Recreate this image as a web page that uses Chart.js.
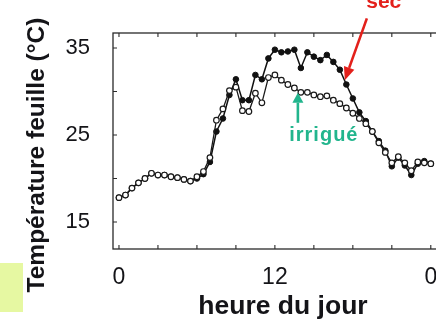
<!DOCTYPE html>
<html><head><meta charset="utf-8">
<script src="https://cdn.jsdelivr.net/npm/chart.js@4.4.1/dist/chart.umd.min.js"></script>
<style>
html,body{margin:0;padding:0;background:#fff;overflow:hidden;}
#wrap{position:relative;width:436px;height:325px;overflow:hidden;background:#fff;}
#swatch{position:absolute;left:0;top:263px;width:23px;height:49px;background:#e6f8a2;}
canvas{position:absolute;left:0;top:0;}
</style></head><body>
<div id="wrap"><div id="swatch"></div><canvas id="c" width="446" height="325"></canvas></div>
<script>
// hour of day (half-hourly readings)
const hours = [0,0.5,1,1.5,2,2.5,3,3.5,4,4.5,5,5.5,6,6.5,7,7.5,8,8.5,9,9.5,10,10.5,11,11.5,
  12,12.5,13,13.5,14,14.5,15,15.5,16,16.5,17,17.5,18,18.5,19,19.5,20,20.5,21,21.5,22,22.5,23,23.5,24];
// leaf temperature, irrigated plant (open circles)
const irrigue = [17.8,18.1,18.9,19.5,20.0,20.6,20.4,20.4,20.2,20.1,19.9,19.7,20.2,20.8,22.4,26.7,
  28.0,30.1,30.5,27.8,27.7,29.8,28.7,31.6,31.9,31.3,30.8,30.4,29.9,29.9,29.6,29.4,29.5,29.0,28.6,
  28.1,27.5,26.9,26.3,25.4,24.1,23.0,21.8,22.5,21.8,20.9,21.9,21.8,21.7];
// leaf temperature, dry plant (filled circles)
const sec = [17.8,18.1,18.9,19.5,20.0,20.6,20.4,20.4,20.2,20.1,19.9,19.7,20.0,20.5,21.9,25.4,
  26.9,29.6,31.4,29.0,29.0,31.9,31.4,33.8,34.8,34.5,34.6,34.8,32.7,34.5,34.0,33.6,34.2,33.4,32.5,
  30.8,29.2,27.6,26.6,25.4,24.3,23.2,21.4,22.4,21.5,20.4,21.7,22.0,21.7];
const xTickValues = [0, 12, 24];
const xTickLabels = ['0', '12', '0'];
const yTickValues = [15, 25, 35];
const xMinorTicks = [0, 3, 6, 9, 12, 15, 18, 21, 24];
const yMinorTicks = [15, 20, 25, 30, 35];

const FONT = "'Liberation Sans', Arial, sans-serif";
const INK = '#141418';

const framePlugin = {
  id: 'frame',
  afterDraw(chart) {
    const {ctx, chartArea: a, scales: {x, y}} = chart;
    ctx.save();
    ctx.strokeStyle = '#2a2a2a';
    ctx.lineWidth = 1.3;
    ctx.strokeRect(a.left, a.top, a.right - a.left, a.bottom - a.top);
    ctx.lineWidth = 1.1;
    ctx.beginPath();
    xMinorTicks.forEach(v => {
      const px = x.getPixelForValue(v);
      ctx.moveTo(px, a.bottom); ctx.lineTo(px, a.bottom - 4);
      ctx.moveTo(px, a.top); ctx.lineTo(px, a.top + 4);
    });
    yMinorTicks.forEach(v => {
      const py = y.getPixelForValue(v);
      ctx.moveTo(a.left, py); ctx.lineTo(a.left + 4, py);
      ctx.moveTo(a.right, py); ctx.lineTo(a.right - 4, py);
    });
    ctx.stroke();
    ctx.fillStyle = INK;
    // x axis title
    ctx.font = "bold 26.5px " + FONT;
    ctx.textAlign = 'center';
    ctx.textBaseline = 'middle';
    ctx.fillText('heure du jour', 283, 307);
    // y axis title
    ctx.font = "bold 24.5px " + FONT;
    ctx.translate(37, 155);
    ctx.rotate(-Math.PI / 2);
    ctx.fillText('Température feuille (°C)', 0, 0);
    ctx.restore();
  }
};

function arrow(ctx, x0, y0, x1, y1, color, w, headLen, headW) {
  const ang = Math.atan2(y1 - y0, x1 - x0);
  const bx = x1 - Math.cos(ang) * headLen, by = y1 - Math.sin(ang) * headLen;
  ctx.strokeStyle = color; ctx.fillStyle = color; ctx.lineWidth = w;
  ctx.beginPath(); ctx.moveTo(x0, y0); ctx.lineTo(bx, by); ctx.stroke();
  const nx = -Math.sin(ang) * headW / 2, ny = Math.cos(ang) * headW / 2;
  ctx.beginPath();
  ctx.moveTo(x1, y1); ctx.lineTo(bx + nx, by + ny); ctx.lineTo(bx - nx, by - ny);
  ctx.closePath(); ctx.fill();
}

const notePlugin = {
  id: 'notes',
  afterDraw(chart) {
    const {ctx, scales: {x, y}} = chart;
    ctx.save();
    const red = '#e3201b', teal = '#22b58d';
    arrow(ctx, x.getPixelForValue(19.08), y.getPixelForValue(38.4),
               x.getPixelForValue(17.38), y.getPixelForValue(31.3), red, 2.6, 13, 11);
    ctx.fillStyle = red;
    ctx.font = "bold 21px " + FONT;
    ctx.textAlign = 'center'; ctx.textBaseline = 'alphabetic';
    ctx.fillText('sec', x.getPixelForValue(20.38), y.getPixelForValue(39.6));
    arrow(ctx, x.getPixelForValue(13.77), y.getPixelForValue(26.4),
               x.getPixelForValue(13.77), y.getPixelForValue(29.85), teal, 2.6, 10, 11);
    ctx.fillStyle = teal;
    ctx.font = "bold 20px " + FONT;
    ctx.letterSpacing = '1px';
    ctx.textAlign = 'center'; ctx.textBaseline = 'middle';
    ctx.fillText('irrigué', x.getPixelForValue(15.77), y.getPixelForValue(25.0));
    ctx.restore();
  }
};

new Chart(document.getElementById('c'), {
  type: 'line',
  data: {
    labels: hours,
    datasets: [
      {
        label: 'irrigué', order: 0,
        data: hours.map((h, i) => ({x: h, y: irrigue[i]})),
        borderColor: '#1a1a1a', borderWidth: 1.3,
        pointRadius: 2.8, pointBorderWidth: 1.2,
        pointBackgroundColor: '#ffffff', pointBorderColor: '#1a1a1a',
        tension: 0, fill: false
      },
      {
        label: 'sec', order: 1,
        data: hours.map((h, i) => ({x: h, y: sec[i]})),
        borderColor: '#111111', borderWidth: 1.5,
        pointRadius: 2.8, pointBorderWidth: 1,
        pointBackgroundColor: '#111111', pointBorderColor: '#111111',
        tension: 0, fill: false
      }
    ]
  },
  options: {
    responsive: false, animation: false, devicePixelRatio: 1,
    layout: {padding: {left: 0, right: 5, top: 33, bottom: 0}},
    plugins: {legend: {display: false}, tooltip: {enabled: false}},
    scales: {
      x: {
        type: 'linear', min: -0.46, max: 24.77,
        afterBuildTicks: s => { s.ticks = xTickValues.map(v => ({value: v})); },
        ticks: {
          callback: v => xTickLabels[xTickValues.indexOf(v)],
          font: {family: FONT, size: 23}, color: INK, padding: 15,
          maxRotation: 0, autoSkip: false
        },
        grid: {display: false, drawTicks: false},
        border: {display: false},
        afterFit: s => { s.height = 76; s.paddingLeft = 0; s.paddingRight = 0; }
      },
      y: {
        type: 'linear', min: 11.9, max: 36.72,
        afterBuildTicks: s => { s.ticks = yTickValues.map(v => ({value: v})); },
        ticks: {font: {family: FONT, size: 22}, color: INK, padding: 23},
        grid: {display: false, drawTicks: false},
        border: {display: false},
        afterFit: s => { s.width = 113; s.paddingTop = 0; s.paddingBottom = 0; }
      }
    }
  },
  plugins: [framePlugin, notePlugin]
});
</script>
</body></html>
